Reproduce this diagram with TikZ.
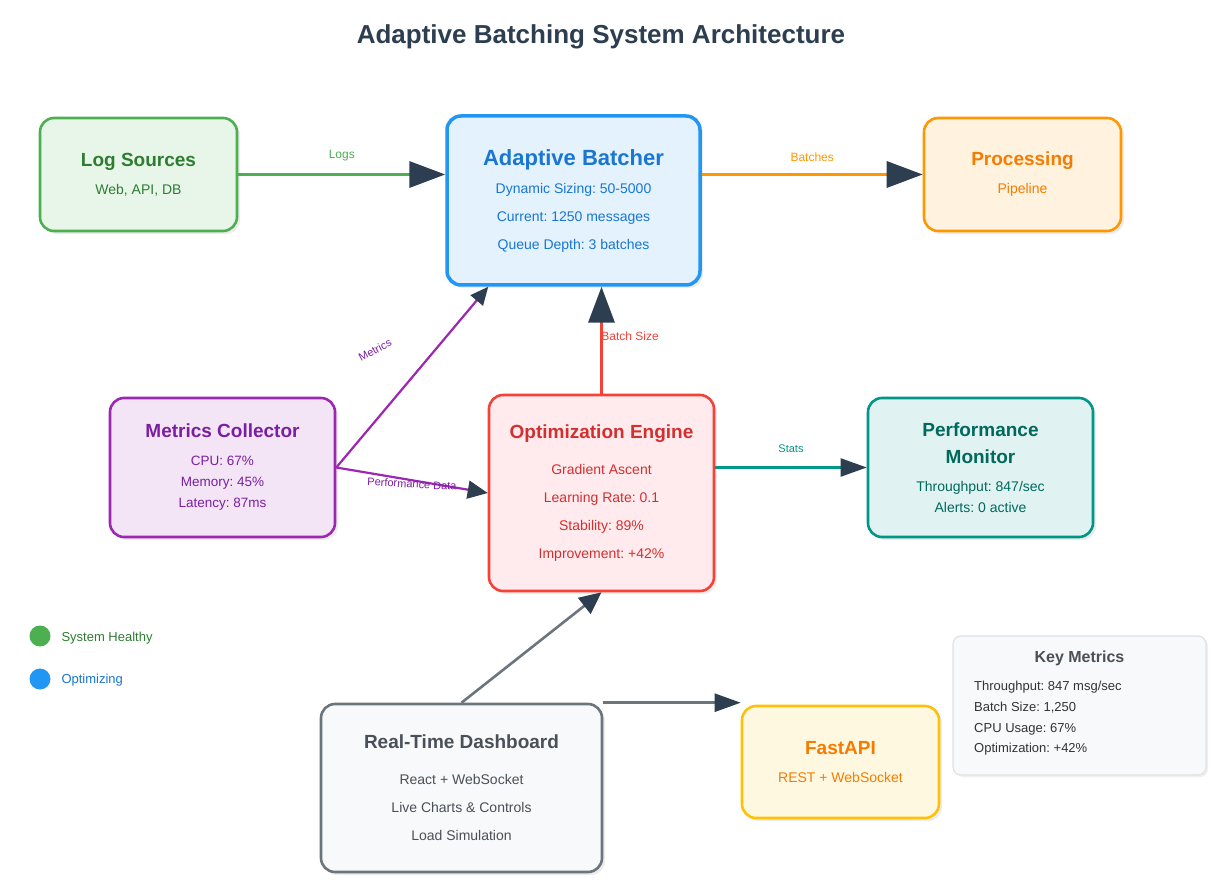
\documentclass[tikz,border=0pt]{standalone}
\usepackage{fontspec}
\setmainfont{Liberation Sans}
\usetikzlibrary{arrows.meta,shadows,calc}
\definecolor{ink}{HTML}{2C3E50}
\definecolor{gBd}{HTML}{4CAF50}\definecolor{gFl}{HTML}{E8F5E9}\definecolor{gTx}{HTML}{2E7D32}
\definecolor{bBd}{HTML}{2196F3}\definecolor{bFl}{HTML}{E3F2FD}\definecolor{bTx}{HTML}{1976D2}
\definecolor{oBd}{HTML}{FF9800}\definecolor{oFl}{HTML}{FFF3E0}\definecolor{oTx}{HTML}{F57C00}
\definecolor{pBd}{HTML}{9C27B0}\definecolor{pFl}{HTML}{F3E5F5}\definecolor{pTx}{HTML}{7B1FA2}
\definecolor{rBd}{HTML}{F44336}\definecolor{rFl}{HTML}{FFEBEE}\definecolor{rTx}{HTML}{D32F2F}
\definecolor{tBd}{HTML}{009688}\definecolor{tFl}{HTML}{E0F2F1}\definecolor{tTx}{HTML}{00695C}
\definecolor{sBd}{HTML}{6C757D}\definecolor{sFl}{HTML}{F8F9FA}\definecolor{sTx}{HTML}{495057}
\definecolor{yBd}{HTML}{FFC107}\definecolor{yFl}{HTML}{FFF8E1}
\definecolor{kBd}{HTML}{DEE2E6}
\frenchspacing
\newcommand{\boxtitle}[1]{{\fontsize{19}{28}\selectfont\bfseries #1}}
\tikzset{
  box/.style 2 args={draw=#1, fill=#2, line width=2.6pt, rounded corners=14pt,
    inner sep=0pt, align=center, drop shadow={opacity=0.15, shadow xshift=3pt, shadow yshift=-3pt}},
  body/.style={font=\fontsize{14}{28}\selectfont},
  lbl/.style={font=\fontsize{12}{12}\selectfont},
  big tip/.style={-{Triangle[length=36pt,width=26pt,color=ink]}},
}
\begin{document}
\begin{tikzpicture}[x=1pt,y=-1pt]
  \useasboundingbox[fill=white] (0,0) rectangle (1224,882);
  \node[font=\fontsize{26}{26}\selectfont\bfseries, text=ink] (title) at (601,37) {Adaptive Batching System Architecture};

  % boxes
  \node[box={gBd}{gFl}, minimum width=197pt, minimum height=113pt, text=gTx, body] (logs) at (138.5,174.5)
    {\boxtitle{Log Sources}\\Web, API, DB};
  \node[box={bBd}{bFl}, line width=3.5pt, minimum width=253pt, minimum height=169pt, text=bTx, body] (batcher) at (573.5,200.5)
    {{\fontsize{22}{29}\selectfont\bfseries Adaptive Batcher}\\Dynamic Sizing: 50-5000\\Current: 1250 messages\\Queue Depth: 3 batches};
  \node[box={oBd}{oFl}, minimum width=197pt, minimum height=113pt, text=oTx, body] (proc) at (1022.5,174.5)
    {\boxtitle{Processing}\\Pipeline};
  \node[box={pBd}{pFl}, minimum width=225pt, minimum height=139pt, text=pTx, font=\fontsize{13.5}{21}\selectfont] (metrics) at (222.5,467.5)
    {\boxtitle{Metrics Collector}\\[7pt]CPU: 67\%\\Memory: 45\%\\Latency: 87ms};
  \node[box={rBd}{rFl}, minimum width=225pt, minimum height=196pt, text=rTx, body] (engine) at (601.5,493)
    {\boxtitle{Optimization Engine}\\[8pt]Gradient Ascent\\Learning Rate: 0.1\\Stability: 89\%\\Improvement: +42\%};
  \node[box={tBd}{tFl}, minimum width=225pt, minimum height=139pt, text=tTx, font=\fontsize{14}{21}\selectfont] (monitor) at (980.5,467.5)
    {\boxtitle{Performance}\\[6pt]\boxtitle{Monitor}\\[7pt]Throughput: 847/sec\\Alerts: 0 active};
  \node[box={sBd}{sFl}, minimum width=281pt, minimum height=168pt, text=sTx, body] (dash) at (461.5,788)
    {\boxtitle{Real-Time Dashboard}\\[8pt]React + WebSocket\\Live Charts \& Controls\\Load Simulation};
  \node[box={yBd}{yFl}, minimum width=197pt, minimum height=112pt, text=oTx, body] (fastapi) at (840.5,762)
    {\boxtitle{FastAPI}\\REST + WebSocket};
  \node[draw=kBd, fill=sFl, line width=1.2pt, rounded corners=8pt, minimum width=253pt, minimum height=139pt,
    drop shadow={opacity=0.12, shadow xshift=2pt, shadow yshift=-2pt}] (keybox) at (1079.5,705.5) {};
  \node[font=\fontsize{16}{16}\selectfont\bfseries, text=sTx] (keytitle) at (1079.5,658) {Key Metrics};
  \node[anchor=north west, align=left, text=black!80, font=\fontsize{13}{20.7}\selectfont, inner sep=0pt] (keytext) at (974,681)
    {Throughput: 847 msg/sec\\Batch Size: 1,250\\CPU Usage: 67\%\\Optimization: +42\%};

  % legend
  \node[circle, fill=gBd, minimum size=21pt, inner sep=0pt] (ok) at (40,636) {};
  \node[anchor=west, text=gTx, font=\fontsize{13}{13}\selectfont] (oktext) at (58,638) {System Healthy};
  \node[circle, fill=bBd, minimum size=21pt, inner sep=0pt] (opt) at (40,679) {};
  \node[anchor=west, text=bTx, font=\fontsize{13}{13}\selectfont] (opttext) at (58,680) {Optimizing};

  % connectors
  \draw[gBd, line width=3.5pt, big tip] (logs.east) -- (logs.east -| batcher.west)
    node[midway, above=8pt, lbl, text=gBd] {Logs};
  \draw[oBd, line width=3.5pt, big tip] (batcher.east |- proc.west) -- (proc.west)
    node[midway, above=8pt, lbl, text=oBd] {Batches};
  \coordinate (mhit) at ($(batcher.south west)+(43,0)$);
  \draw[pBd, line width=2.2pt, -{Triangle[length=18pt,width=16pt,color=ink]}] (metrics.east) -- (mhit);
  \node[text=pTx, rotate=28, font=\fontsize{11}{11}\selectfont] (mlbl) at (375,350) {Metrics};
  \draw[pBd, line width=2.2pt, -{Triangle[length=20pt,width=18pt,color=ink]}] (metrics.east) -- (engine.west);
  \node[text=pTx, font=\fontsize{11}{11}\selectfont, rotate=-3] (plbl) at (412,484) {Performance Data};
  \draw[rBd, line width=3.5pt, big tip] (engine.north) -- (engine.north |- batcher.south);
  \node[lbl, text=rBd] (blbl) at (630,336) {Batch Size};
  \draw[tBd, line width=2.2pt, -{Triangle[length=26pt,width=18pt,color=ink]}] (engine.east |- metrics.east) -- (monitor.west);
  \node[text=tBd, font=\fontsize{11}{11}\selectfont] (slbl) at (791,449) {Stats};
  \draw[sBd, line width=2.6pt, -{Triangle[length=22pt,width=20pt,color=ink]}] (dash.north) -- (engine.south);
  \draw[sBd, line width=2.6pt, -{Triangle[length=26pt,width=18pt,color=ink]}] (dash.north east) -- (dash.north east -| fastapi.west);
\end{tikzpicture}
\end{document}
